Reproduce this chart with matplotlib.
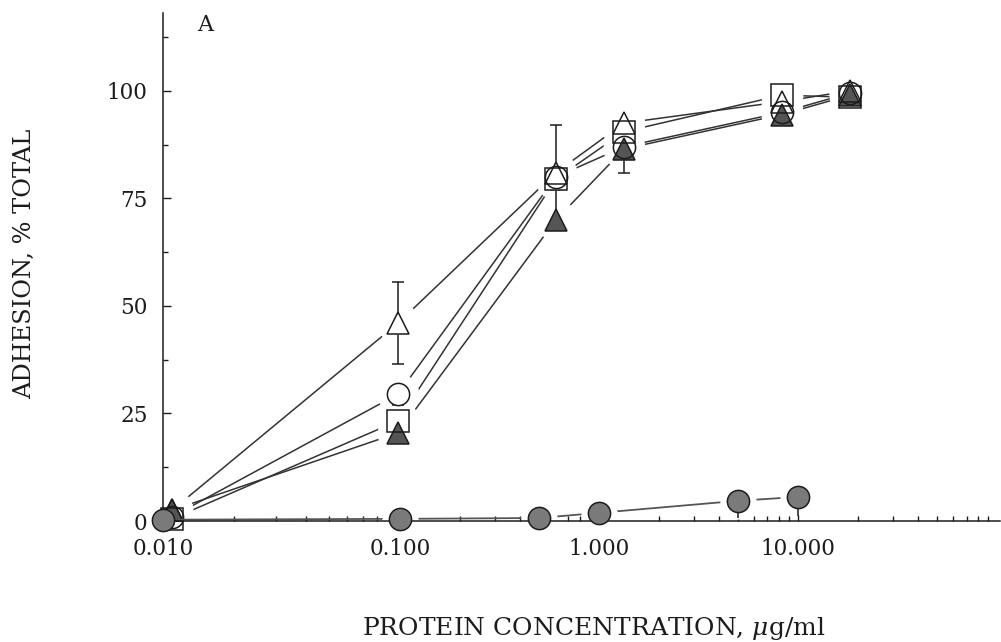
import numpy as np
import matplotlib
matplotlib.use("Agg")
import matplotlib.pyplot as plt
from matplotlib.ticker import FixedLocator, FixedFormatter, NullFormatter

plt.rcParams['font.family'] = ['DejaVu Serif']
plt.rcParams['mathtext.fontset'] = 'dejavuserif'

# ---------------- data ----------------
conc = [0.01, 0.1, 0.5, 1.0, 5.0, 10.0]

open_tri = [2.5, 46.0, 81.0, 92.5, 97.5, 100.0]
open_tri_err_lo = [0, 9.5, 0, 0, 0, 0]
open_tri_err_hi = [0, 9.5, 11.0, 0, 0, 0]

open_circ = [1.0, 29.5, 80.0, 87.0, 95.0, 99.5]
open_circ_err_lo = [0, 2.5, 0, 0, 0, 0]
open_circ_err_hi = [0, 0, 0, 0, 0, 0]

open_sq = [0.5, 23.3, 79.5, 90.5, 99.0, 98.5]

fill_tri = [2.5, 20.5, 70.0, 86.5, 94.5, 99.0]
fill_tri_err_lo = [0, 0, 0, 5.5, 0, 0]
fill_tri_err_hi = [0, 0, 7.0, 0, 0, 0]

fill_circ = [0.3, 0.5, 0.7, 1.9, 4.7, 5.6]
fill_circ_err_lo = [0, 0, 0, 0, 4.0, 4.5]
fill_circ_err_hi = [0, 0, 0, 0, 0, 0]

major_ticks = [0.01, 0.1, 1.0, 10.0]
major_labels = ['0.010', '0.100', '1.000', '10.000']
y_ticks = [0, 25, 50, 75, 100]

# ---------------- scale (first decade stretched as in original) ----------------
K = 1.19


def fwd(x):
    x = np.asarray(x, dtype=float)
    u = np.log10(np.clip(x, 1e-12, None))
    return np.where(u < -1, -1 + (u + 1) * K, u)


def inv(t):
    t = np.asarray(t, dtype=float)
    return np.where(t < -1, 10 ** (-1 + (t + 1) / K), 10 ** t)


INK = '#1c1c1c'
LINE = '#333333'

fig = plt.figure(figsize=(10.01, 6.42), dpi=100)
ax = fig.add_axes([163 / 1001, 121 / 642, 837 / 1001, 508 / 642])
ax.set_xscale('function', functions=(fwd, inv))
ax.set_xlim(0.01, 103)
ax.set_ylim(0, 118.1)

# secondary axis on which the open-symbol series sit (different decade width)
ax2 = ax.twiny()
ax2.set_xscale('log')
ax2.set_xlim(0.00912, 46.1)
for s in ax2.spines.values():
    s.set_visible(False)
ax2.xaxis.set_visible(False)

# main axis on top so that its spines/filled circles stay visible
ax.set_zorder(ax2.get_zorder() + 1)
ax.patch.set_visible(False)

for side in ['top', 'right']:
    ax.spines[side].set_visible(False)
for side in ['left', 'bottom']:
    ax.spines[side].set_linewidth(1.1)
    ax.spines[side].set_color(INK)

ax.xaxis.set_major_locator(FixedLocator(major_ticks))
ax.xaxis.set_major_formatter(FixedFormatter(major_labels))
minors = [m * d for d in [0.01, 0.1, 1, 10] for m in range(2, 10)]
minors = [v for v in minors if v < 103]
ax.xaxis.set_minor_locator(FixedLocator(minors))
ax.xaxis.set_minor_formatter(NullFormatter())

ax.yaxis.set_major_locator(FixedLocator(y_ticks))
ax.yaxis.set_minor_locator(FixedLocator([12.5, 37.5, 62.5, 87.5, 112.5]))

ax.tick_params(axis='both', which='major', direction='in', length=6, width=1.0,
               color=INK, labelsize=15.5, labelcolor=INK)
ax.tick_params(axis='both', which='minor', direction='in', length=3.5, width=1.0, color=INK)
ax.tick_params(axis='y', which='major', pad=11)
ax.tick_params(axis='x', which='major', pad=12)

MS = 16
HALO = 30

# ---- open series on ax2 ----
# (values, marker, face colour, err low, err high); filled triangle drawn first
open_series = [
    (fill_tri, '^', '#555555', fill_tri_err_lo, fill_tri_err_hi),
    (open_sq, 's', 'none', None, None),
    (open_circ, 'o', 'none', open_circ_err_lo, open_circ_err_hi),
    (open_tri, '^', 'none', open_tri_err_lo, open_tri_err_hi),
]
for vals, mk, fc, elo, ehi in open_series:
    ax2.plot(conc, vals, '-', color=LINE, lw=1.1, zorder=2, clip_on=False)
for vals, mk, fc, elo, ehi in open_series:
    ax2.plot(conc, vals, 'o', ms=HALO, mfc='white', mec='none', ls='none', zorder=3, clip_on=False)
for vals, mk, fc, elo, ehi in open_series:
    if elo is not None:
        ax2.errorbar(conc, vals, yerr=[elo, ehi], fmt='none', ecolor=INK, elinewidth=1.1,
                     capsize=4, capthick=1.1, zorder=4, clip_on=False)
# white backing so error bars do not show through the symbols
for vals, mk, fc, elo, ehi in open_series:
    ax2.plot(conc, vals, mk, ms=MS, mfc='white', mec='none', ls='none', zorder=4.5, clip_on=False)
for vals, mk, fc, elo, ehi in open_series:
    ax2.plot(conc, vals, mk, ms=MS, mfc=fc, mec=INK, mew=1.1, ls='none', zorder=5, clip_on=False)

# ---- filled circles on main axis ----
ax.plot(conc, fill_circ, '-', color='#555555', lw=1.3, zorder=2, clip_on=False)
ax.plot(conc[1:], fill_circ[1:], 'o', ms=26, mfc='white', mec='none', ls='none',
        zorder=2.2, clip_on=False)
ax.errorbar(conc, fill_circ, yerr=[fill_circ_err_lo, fill_circ_err_hi], fmt='none',
            ecolor=INK, elinewidth=1.1, capsize=0, zorder=4, clip_on=False)
ax.plot(conc, fill_circ, 'o', ms=MS, mfc='#7a7a7a', mec=INK, mew=1.1, ls='none',
        zorder=5, clip_on=False)

# ---- text ----
fig.text(25 / 1001, 1 - 264 / 642, 'ADHESION, % TOTAL', rotation=90, ha='center',
         va='center', fontsize=17.3, color=INK)
fig.text(594 / 1001, 1 - 628 / 642, r'PROTEIN CONCENTRATION, $\mu$g/ml', ha='center',
         va='center', fontsize=18, color=INK)
fig.text(205 / 1001, 1 - 25 / 642, 'A', ha='center', va='center', fontsize=16, color=INK)

fig.savefig('out.png', dpi=100, facecolor='white')
